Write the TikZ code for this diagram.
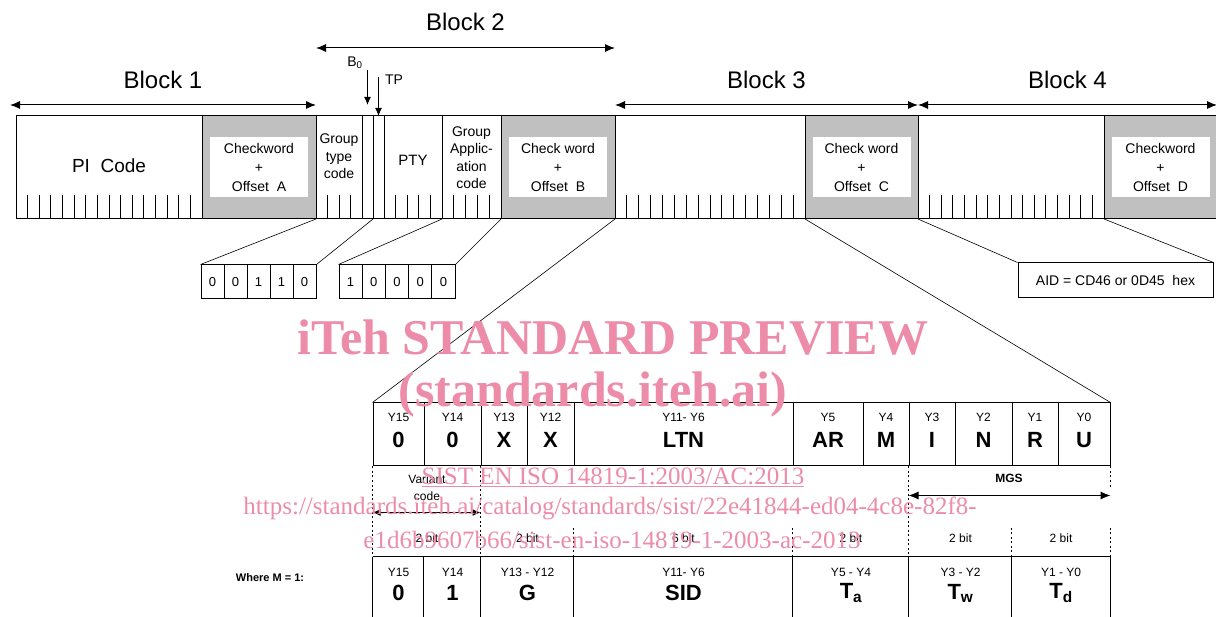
\documentclass[tikz,border=0pt]{standalone}
\usepackage{fontspec}
\setmainfont{Liberation Sans}
\newfontfamily\wmfont{Liberation Serif}
\usetikzlibrary{arrows.meta,positioning,calc}
\definecolor{ckgray}{RGB}{192,192,192}
\definecolor{wmpink}{RGB}{236,140,168}
\newcommand{\bitticks}[3]{\foreach \k in {1,...,#3}{\draw[tick] ($(#1.south west)!{\k/#2}!(#1.south east)$) -- ++(0,-24);}}
\newcommand{\fs}[2]{\fontsize{#1}{#2}\selectfont}

\begin{document}
\begin{tikzpicture}[x=1pt, y=-1pt,
  >={Latex[length=10pt,width=8pt]},
  line width=1pt,
  fld/.style={draw, inner sep=0pt, outer sep=0pt, minimum height=103},
  ck/.style={fld, fill=ckgray},
  ckin/.style={fill=white, inner sep=0pt, minimum width=98, minimum height=60, align=center, font=\fs{14}{19}},
  lbl/.style={align=center, inner sep=0pt, font=\fs{14}{17.5}},
  blk/.style={inner sep=0pt, font=\fs{24}{26}},
  tick/.style={line width=0.9pt},
  bitc/.style={draw, inner sep=0pt, minimum width=23, minimum height=34, font=\fs{13}{15}},
  cell/.style={draw, inner sep=0pt, minimum height=63},
  ylab/.style={inner sep=0pt, font=\fs{12}{14}},
  yval/.style={inner sep=0pt, font=\fs{22}{24}\bfseries},
  note/.style={inner sep=0pt, font=\fs{12}{14}},
  zoomln/.style={line width=0.6pt},
  dotln/.style={line width=1.3pt, dash pattern=on 2pt off 2.5pt},
  wm/.style={inner sep=0pt, text=wmpink, font=\wmfont\fs{50}{54}\bfseries},
  wmsub/.style={inner sep=0pt, text=wmpink, font=\wmfont\fs{25}{28}}]
\useasboundingbox (0,0) rectangle (1216,617);

\node[fld, minimum width=186] (pi) at (109,167.5) {};
\node[ck, minimum width=114, right=0pt of pi] (ckA) {};
\node[fld, minimum width=46, right=0pt of ckA] (gtc) {};
\node[fld, minimum width=11, right=0pt of gtc] (bz) {};
\node[fld, minimum width=11, right=0pt of bz] (tp) {};
\node[fld, minimum width=58, right=0pt of tp] (pty) {};
\node[fld, minimum width=59, right=0pt of pty] (gac) {};
\node[ck, minimum width=114, right=0pt of gac] (ckB) {};
\node[fld, minimum width=190, right=0pt of ckB] (blk3) {};
\node[ck, minimum width=113, right=0pt of blk3] (ckC) {};
\node[fld, minimum width=186, right=0pt of ckC] (blk4) {};
\node[ck, minimum width=113, right=0pt of blk4] (ckD) {};

\node[ckin] (ckAin) at (ckA) {Checkword\\+\\Offset~~A};
\node[ckin] (ckBin) at (ckB) {Check word\\+\\Offset~~B};
\node[ckin] (ckCin) at (ckC) {Check word\\+\\Offset~~C};
\node[ckin] (ckDin) at (ckD) {Checkword\\+\\Offset~~D};

\bitticks{pi}{16}{15}
\bitticks{gtc}{4}{3}
\bitticks{pty}{5}{4}
\bitticks{gac}{5}{4}
\bitticks{blk3}{16}{15}
\bitticks{blk4}{16}{15}

\node[lbl, font=\fs{19}{21}] (pit) at ([yshift=2]pi.center) {PI~~Code};
\node[lbl] (gtct) at ([yshift=11]gtc.center) {Group\\type\\code};
\node[lbl, font=\fs{15}{17}] (ptyt) at ([yshift=7]pty.center) {PTY};
\node[lbl] (gact) at ([yshift=10]gac.center) {Group\\Applic-\\ation\\code};

\draw[<->] ([xshift=-6,yshift=11]pi.north west) -- ([yshift=11]ckA.north east)
  node[blk, midway, yshift=25] (b1lab) {Block 1};
\draw[<->] ([yshift=68]gtc.north west) -- ([yshift=68]ckB.north east)
  node[blk, midway, yshift=26] (b2lab) {Block 2};
\draw[<->] ([yshift=11]blk3.north west) -- ([yshift=11]ckC.north east)
  node[blk, midway, yshift=25] (b3lab) {Block 3};
\draw[<->] ([yshift=11]blk4.north west) -- ([yshift=11]ckD.north east)
  node[blk, midway, yshift=25] (b4lab) {Block 4};

\node[lbl] (bzl) at (355,63) {B\textsubscript{0}};
\node[lbl] (tpl) at (394,80) {TP};
\draw[-{Latex[length=8pt,width=7pt]}] ([yshift=46]bz.north) -- ([yshift=11]bz.north);
\draw[-{Latex[length=8pt,width=7pt]}] ([yshift=39]tp.north) -- (tp.north);

\foreach \b [count=\i] in {0,0,1,1,0}
  \node[bitc] (g\i) at (189.5+23*\i,282) {\b};
\foreach \b [count=\i] in {1,0,0,0,0}
  \node[bitc, minimum width=23.2] (a\i) at (327.4+23.2*\i,282) {\b};
\node[draw, inner sep=0pt, minimum width=195, minimum height=35, font=\fs{14}{16}] (aid) at (1115.5,280.5) {AID = CD46 or 0D45~~hex};

\foreach \l/\r/\yy/\vv [count=\i] in {373/424/Y15/0, 424/481/Y14/0, 481/527/Y13/X, 527/574/Y12/X, 574/793/Y11- Y6/LTN, 793/863/Y5/AR, 863/909/Y4/M, 909/955/Y3/I, 955/1012/Y2/N, 1012/1058/Y1/R, 1058/1110/Y0/U}{
  \node[cell, minimum width=\r-\l] (t\i) at ({(\l+\r)/2},434.5) {};
  \node[ylab] (ty\i) at ([yshift=17.5]t\i.center) {\yy};
  \node[yval] (tv\i) at ([yshift=-5.5]t\i.center) {\vv};
}

\foreach \l/\r/\yy/\vv [count=\i] in {373/424/Y15/0, 424/481/Y14/1, 481/574/Y13 - Y12/G, 574/793/Y11- Y6/SID, 793/909/Y5 - Y4/T\textsubscript{a}, 909/1012/Y3 - Y2/T\textsubscript{w}, 1012/1110/Y1 - Y0/T\textsubscript{d}}{
  \node[inner sep=0pt, minimum width=\r-\l, minimum height=60] (b\i) at ({(\l+\r)/2},587) {};
  \node[ylab] (by\i) at ([yshift=15]b\i.center) {\yy};
  \node[yval] (bv\i) at ([yshift=-6]b\i.center) {\vv};
  \draw (b\i.north west) -- (b\i.south west);
}
\draw (b1.north west) -- (b7.north east) -- (b7.south east);

\draw[zoomln] (ckA.south east) -- (g1.north west);
\draw[zoomln] (bz.south east) -- (g5.north east);
\draw[zoomln] (gac.south west) -- (a1.north west);
\draw[zoomln] (gac.south east) -- (a5.north east);
\draw[zoomln] (blk3.south west) -- (t1.north west);
\draw[zoomln] (ckC.south west) -- (t11.north east);
\draw[zoomln] (blk4.south west) -- (aid.north west);
\draw[zoomln] (ckD.south west) -- (aid.north east);

\draw[dotln] (t1.south west) -- (b1.north west);
\draw[dotln] (t3.south west) -- (b3.north west);
\draw[dotln] (t8.south west) -- (b6.north west);
\draw[dotln] (b4.north west) -- ++(0,-30);
\draw[dotln] (b5.north west) -- ++(0,-30);
\draw[dotln] (b7.north west) -- ++(0,-30);
\draw[dotln] (b7.north east) -- ++(0,-30);
\draw[dotln] (t11.south east) -- ++(0,22);

\node[note, align=center, font=\fs{12}{17}] (vc) at (427,488) {Variant\\code};
\draw[{Latex[length=8pt,width=7pt]}-{Latex[length=8pt,width=7pt]}] ([yshift=-46]t1.south west) -- ([yshift=-46]t3.south west);
\node[note, font=\fs{12}{14}\bfseries] (mgs) at (1009,478) {MGS};
\draw[<->] ([yshift=-29]t8.south west) -- ([yshift=-29]t11.south east);

\foreach \x/\t [count=\i] in {427/2 bit, 527.5/2 bit, 683.5/6 bit, 851/2 bit, 960.5/2 bit, 1061/2 bit}
  \node[note] (bit\i) at (\x,538) {\t};
\node[note, font=\fs{11}{13}\bfseries] (where) at (270,578) {Where M = 1:};

\node[wm] (wm1) at (613,338) {iTeh STANDARD PREVIEW};
\node[wm] (wm2) at (593,394) {(standards.iteh.ai)};
\node[wmsub] (wm3) at (613,477) {\underline{SIST EN ISO 14819-1:2003/AC:2013}};
\node[wmsub] (wm4) at (610,508) {https://standards.iteh.ai/catalog/standards/sist/22e41844-ed04-4c8e-82f8-};
\node[wmsub] (wm5) at (612,540) {e1d6b9607b66/sist-en-iso-14819-1-2003-ac-2013};
\end{tikzpicture}
\end{document}
